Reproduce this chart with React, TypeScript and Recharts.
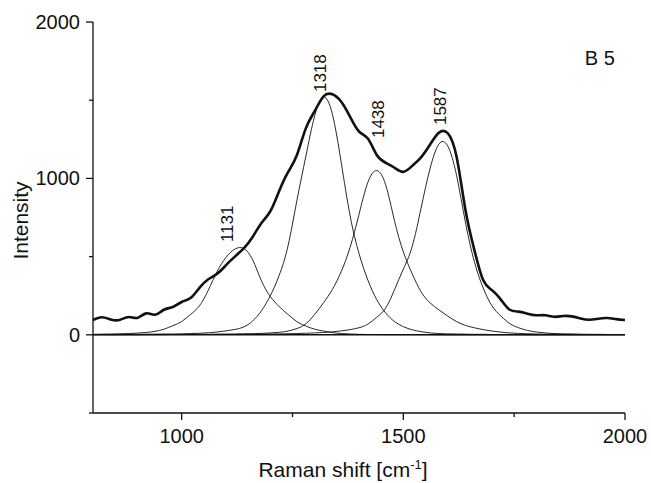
import React from 'react';
import { LineChart, Line, XAxis, YAxis, ReferenceLine, ReferenceDot } from 'recharts';

// Raman spectrum of sample B 5 with its four fitted bands

const wavenumbers = [
  800, 820, 840, 860, 880, 900, 920, 940, 960, 980,
  1000, 1020, 1040, 1060, 1080, 1100, 1120, 1140, 1160, 1180,
  1200, 1220, 1240, 1260, 1280, 1300, 1320, 1340, 1360, 1380,
  1400, 1420, 1440, 1460, 1480, 1500, 1520, 1540, 1560, 1580,
  1600, 1620, 1640, 1660, 1680, 1700, 1720, 1740, 1760, 1780,
  1800, 1820, 1840, 1860, 1880, 1900, 1920, 1940, 1960, 1980, 2000,
];

const measured = [
  95, 112, 98, 95, 114, 108, 137, 128, 160, 178,
  210, 235, 300, 355, 390, 445, 500, 552, 625, 715,
  790, 920, 1040, 1150, 1320, 1430, 1525, 1538, 1490, 1393,
  1300, 1255, 1150, 1100, 1068, 1042, 1080, 1135, 1215, 1292,
  1290, 1140, 800, 545, 350, 285, 225, 160, 148, 135,
  125, 125, 115, 120, 118, 104, 96, 103, 107, 100, 95,
];

const band1131 = [
  3, 4, 5, 6, 8, 11, 15, 22, 36, 58,
  85, 130, 185, 285, 405, 495, 548, 552, 480, 345,
  245, 180, 130, 84, 56, 36, 24, 14, 8, 5,
  3, 2, 2, 1, 1, 1, 1, 1, 1, 0,
  0, 0, 0, 0, 0, 0, 0, 0, 0, 0,
  0, 0, 0, 0, 0, 0, 0, 0, 0, 0, 0,
];

const band1318 = [
  2, 2, 2, 3, 3, 3, 4, 4, 5, 5,
  6, 8, 10, 13, 18, 25, 34, 50, 88, 154,
  250, 380, 570, 860, 1140, 1400, 1520, 1410, 1100, 760,
  520, 350, 225, 140, 85, 52, 32, 20, 12, 8,
  6, 5, 4, 3, 3, 2, 2, 2, 2, 1,
  1, 1, 1, 1, 1, 1, 1, 1, 1, 1, 1,
];

const band1438 = [
  1, 1, 1, 1, 1, 1, 2, 2, 2, 2,
  2, 3, 3, 3, 4, 4, 5, 6, 7, 9,
  12, 16, 24, 40, 70, 130, 205, 290, 405, 560,
  770, 975, 1050, 960, 730, 530, 390, 275, 205, 160,
  120, 85, 60, 45, 33, 24, 17, 12, 9, 7,
  5, 4, 4, 3, 3, 2, 2, 2, 2, 2, 2,
];

const band1587 = [
  1, 1, 1, 1, 1, 1, 1, 1, 1, 2,
  2, 2, 2, 2, 3, 3, 3, 4, 4, 5,
  5, 6, 7, 8, 10, 12, 15, 19, 25, 33,
  45, 68, 112, 170, 288, 420, 565, 810, 1060, 1218,
  1208, 1020, 720, 470, 300, 185, 120, 72, 45, 28,
  18, 12, 8, 6, 5, 4, 3, 3, 2, 2, 2,
];

const xTicks = [1000, 1250, 1500, 1750, 2000];
const xLabelled = [1000, 1500, 2000];
const yTicks = [-500, 0, 500, 1000, 1500, 2000];
const yLabelled = [0, 1000, 2000];
const frameXTicks = [1000, 1250, 1500, 1750];
const frameYTicks = [500, 1000, 1500];

// peak annotations: [text, x, y] where the rotated text starts
const peakLabels: [string, number, number][] = [
  ['1131', 1116, 593],
  ['1318', 1326, 1552],
  ['1438', 1456, 1258],
  ['1587', 1596, 1341],
];

const rows = wavenumbers.map((x, i) => ({
  x,
  measured: measured[i],
  b1: band1131[i],
  b2: band1318[i],
  b3: band1438[i],
  b4: band1587[i],
}));

const INK = '#111';
const FONT = '"Liberation Sans", Arial, sans-serif';

const BottomTick = (props: any) => {
  const { x, y, payload } = props;
  const major = xLabelled.includes(payload.value);
  return (
    <g>
      <line x1={x} y1={y} x2={x} y2={y + (major ? 7 : 4)} stroke={INK} strokeWidth={1.3} />
      {major && (
        <text x={x} y={y + 30} textAnchor="middle" fontSize={20} fontFamily={FONT} fill={INK}>
          {payload.value}
        </text>
      )}
    </g>
  );
};

const LeftTick = (props: any) => {
  const { x, y, payload } = props;
  const major = yLabelled.includes(payload.value);
  return (
    <g>
      <line x1={x} y1={y} x2={x - (major ? 7 : 4)} y2={y} stroke={INK} strokeWidth={1.3} />
      {major && (
        <text x={x - 13} y={y} dy="0.35em" textAnchor="end" fontSize={20} fontFamily={FONT} fill={INK}>
          {payload.value}
        </text>
      )}
    </g>
  );
};

const TopTick = (props: any) => {
  const { x, y } = props;
  return <line x1={x} y1={y} x2={x} y2={y + 3} stroke={INK} strokeWidth={1} />;
};

const RightTick = (props: any) => {
  const { x, y } = props;
  return <line x1={x} y1={y} x2={x - 3} y2={y} stroke={INK} strokeWidth={1} />;
};

const XTitle = (props: any) => {
  const vb = props.viewBox || { x: 93, y: 413, width: 532, height: 70 };
  const cx = vb.x + vb.width / 2 - 16;
  return (
    <text x={cx} y={vb.y + 64} textAnchor="middle" fontSize={21} fontFamily={FONT} fill={INK}>
      Raman shift [cm
      <tspan fontSize={13} dy={-8}>-1</tspan>
      <tspan dy={8}>]</tspan>
    </text>
  );
};

const YTitle = (props: any) => {
  const vb = props.viewBox || { x: 0, y: 22, width: 93, height: 391 };
  const cx = vb.x + 28;
  const cy = vb.y + vb.height / 2 + 3;
  return (
    <text
      x={cx}
      y={cy}
      transform={`rotate(-90 ${cx} ${cy})`}
      textAnchor="middle"
      fontSize={21}
      fontFamily={FONT}
      fill={INK}
    >
      Intensity
    </text>
  );
};

const PeakText = (text: string) => (props: any) => {
  const { cx, cy } = props;
  return (
    <text
      x={cx}
      y={cy}
      transform={`rotate(-90 ${cx} ${cy})`}
      textAnchor="start"
      fontSize={17}
      fontFamily={FONT}
      fill={INK}
    >
      {text}
    </text>
  );
};

const SampleText = (props: any) => {
  const { cx, cy } = props;
  return (
    <text x={cx} y={cy} textAnchor="end" fontSize={20} fontFamily={FONT} fill={INK}>
      B 5
    </text>
  );
};

export default function App() {
  return (
    <div style={{ position: 'absolute', left: 0, top: 0, background: '#fff' }}>
      <LineChart width={651} height={483} data={rows} margin={{ top: 22, right: 26, left: 0, bottom: 0 }}>
        <XAxis
          dataKey="x"
          type="number"
          domain={[800, 2000]}
          ticks={xTicks}
          interval={0}
          height={70}
          tickSize={0}
          tickMargin={0}
          tick={<BottomTick />}
          axisLine={{ stroke: INK, strokeWidth: 1.3 }}
          label={{ content: XTitle }}
        />
        <XAxis
          xAxisId="top"
          orientation="top"
          dataKey="x"
          type="number"
          domain={[800, 2000]}
          ticks={frameXTicks}
          interval={0}
          height={0}
          tickSize={0}
          tickMargin={0}
          tick={<TopTick />}
          axisLine={{ stroke: INK, strokeWidth: 1.3 }}
        />
        <YAxis
          type="number"
          domain={[-500, 2000]}
          ticks={yTicks}
          interval={0}
          width={93}
          tickSize={0}
          tickMargin={0}
          tick={<LeftTick />}
          axisLine={{ stroke: INK, strokeWidth: 1.3 }}
          label={{ content: YTitle }}
        />
        <YAxis
          yAxisId="right"
          orientation="right"
          type="number"
          domain={[-500, 2000]}
          ticks={frameYTicks}
          interval={0}
          width={0}
          tickSize={0}
          tickMargin={0}
          tick={<RightTick />}
          axisLine={{ stroke: INK, strokeWidth: 1.3 }}
        />
        <ReferenceLine y={0} stroke={INK} strokeWidth={1.5} />
        <Line type="natural" dataKey="b1" stroke={INK} strokeWidth={0.9} dot={false} isAnimationActive={false} />
        <Line type="natural" dataKey="b2" stroke={INK} strokeWidth={0.9} dot={false} isAnimationActive={false} />
        <Line type="natural" dataKey="b3" stroke={INK} strokeWidth={0.9} dot={false} isAnimationActive={false} />
        <Line type="natural" dataKey="b4" stroke={INK} strokeWidth={0.9} dot={false} isAnimationActive={false} />
        <Line type="natural" dataKey="measured" stroke={INK} strokeWidth={2.6} dot={false} isAnimationActive={false} />
        {peakLabels.map(([text, px, py]) => (
          <ReferenceDot key={text} x={px} y={py} r={0} shape={PeakText(text)} />
        ))}
        <ReferenceDot x={1977} y={1725} r={0} shape={SampleText} />
      </LineChart>
    </div>
  );
}
